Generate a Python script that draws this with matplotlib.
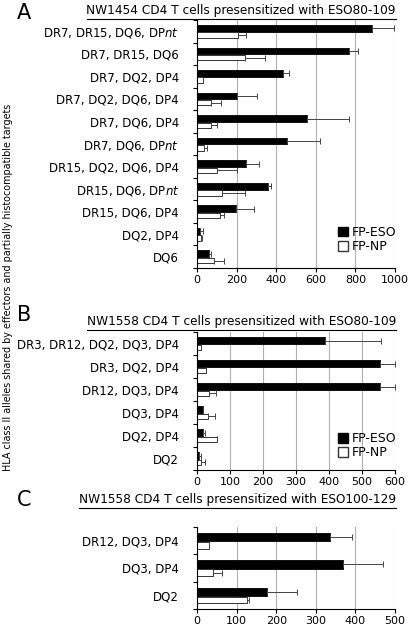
"""
Recreate the three-panel FP-ESO / FP-NP horizontal bar chart (panels A, B, C).
"""

import numpy as np
import matplotlib
matplotlib.use("Agg")
import matplotlib.pyplot as plt
from matplotlib.patches import Patch
from matplotlib.lines import Line2D

plt.rcParams["font.family"] = ["DejaVu Sans"]
plt.rcParams["mathtext.fontset"] = "dejavusans"

W, H = 408, 630

# ---- data -------------------------------------------------------------
labels_a = ["DR7, DR15, DQ6, DP$\\mathit{nt}$", "DR7, DR15, DQ6", "DR7, DQ2, DP4",
            "DR7, DQ2, DQ6, DP4", "DR7, DQ6, DP4", "DR7, DQ6, DP$\\mathit{nt}$",
            "DR15, DQ2, DQ6, DP4", "DR15, DQ6, DP$\\mathit{nt}$", "DR15, DQ6, DP4",
            "DQ2, DP4", "DQ6"]
eso_a = [882, 769, 433, 200, 557, 453, 247, 360, 195, 17, 61]
eso_err_a = [115, 42, 33, 101, 212, 168, 68, 12, 95, 13, 10]
np_a = [209, 242, 30, 69, 72, 35, 99, 125, 118, 20, 88]
np_err_a = [38, 101, 0, 52, 31, 14, 105, 117, 18, 4, 48]

labels_b = ["DR3, DR12, DQ2, DQ3, DP4", "DR3, DQ2, DP4", "DR12, DQ3, DP4",
            "DQ3, DP4", "DQ2, DP4", "DQ2"]
eso_b = [388, 555, 555, 17, 18, 7]
eso_err_b = [171, 45, 45, 0, 7, 6]
np_b = [12, 28, 35, 34, 62, 13]
np_err_b = [0, 0, 22, 20, 0, 12]

labels_c = ["DR12, DQ3, DP4", "DQ3, DP4", "DQ2"]
eso_c = [337, 368, 178]
eso_err_c = [54, 101, 75]
np_c = [31, 40, 126]
np_err_c = [0, 23, 6]

titles = ["NW1454 CD4 T cells presensitized with ESO80-109",
          "NW1558 CD4 T cells presensitized with ESO80-109",
          "NW1558 CD4 T cells presensitized with ESO100-129"]
xmax = [1000, 600, 500]
xstep = [200, 100, 100]
letters = ["A", "B", "C"]

# axes boxes in pixels: left, right, top, bottom
BOXES = [(197, 395, 20, 268), (197, 395, 332, 470), (197, 395, 527, 609)]
TITLE_Y = [14, 325, 503]
LETTER_Y = [13, 315, 500]
LEGEND = [True, True, False]


def px_axes(fig, box):
    l, r, t, b = box
    return fig.add_axes([l / W, 1 - b / H, (r - l) / W, (b - t) / H])


def draw_panel(ax, labels, eso, eso_err, npv, np_err, xm, step, legend):
    n = len(labels)
    y = np.arange(n) + 0.5
    ax.set_xlim(0, xm)
    ax.set_ylim(n, 0)
    ax.set_xticks(np.arange(0, xm + 1, step))
    ax.xaxis.grid(True, color="#b0b0b0", lw=0.8)
    ax.set_axisbelow(True)
    for s in ("top", "right"):
        ax.spines[s].set_visible(False)
    ax.spines["left"].set_linewidth(0.8)
    ax.spines["bottom"].set_linewidth(0.8)

    ekw = dict(ecolor="#444444", elinewidth=0.7, capsize=2.4, capthick=0.7)
    yb = y - 0.13
    yw = y + 0.17
    ax.barh(yb, eso, height=0.3, color="black", edgecolor="black", lw=0.6,
            xerr=[np.zeros(n), eso_err], error_kw=ekw)
    ax.barh(yw, npv, height=0.24, color="white", edgecolor="#333333", lw=0.7,
            xerr=[np.zeros(n), np_err], error_kw=ekw)

    ax.set_yticks(np.arange(n + 1))
    ax.set_yticklabels([])
    ax.tick_params(axis="y", which="major", length=3, width=0.8)
    ax.set_yticks(y, minor=True)
    ax.set_yticklabels(labels, minor=True, fontsize=8.5)
    ax.tick_params(axis="y", which="minor", length=0, pad=13)
    ax.tick_params(axis="x", length=3, width=0.8, labelsize=8, pad=2)

    if legend:
        handles = [Patch(facecolor="black", edgecolor="black", label="FP-ESO"),
                   Patch(facecolor="white", edgecolor="#333333", label="FP-NP")]
        ax.legend(handles=handles, loc="lower right", bbox_to_anchor=(1.03, 0.04),
                  frameon=False, fontsize=9, handlelength=0.8, handleheight=0.8,
                  handletextpad=0.3, labelspacing=0.1, borderaxespad=0)


fig = plt.figure(figsize=(W / 100, H / 100), dpi=100)
data = [(labels_a, eso_a, eso_err_a, np_a, np_err_a),
        (labels_b, eso_b, eso_err_b, np_b, np_err_b),
        (labels_c, eso_c, eso_err_c, np_c, np_err_c)]

title_texts = []
for i, box in enumerate(BOXES):
    ax = px_axes(fig, box)
    draw_panel(ax, *data[i], xmax[i], xstep[i], LEGEND[i])
    t = fig.text(396 / W, 1 - TITLE_Y[i] / H, titles[i], ha="right", va="baseline",
                 fontsize=8.7)
    title_texts.append(t)
    fig.text(24 / W, 1 - LETTER_Y[i] / H, letters[i], ha="center", va="center",
             fontsize=15)

fig.text(8 / W, 1 - 287 / H,
         "HLA class II alleles shared by effectors and partially histocompatible targets",
         rotation=90, ha="center", va="center", fontsize=6.9)

# underline the panel titles
fig.canvas.draw()
renderer = fig.canvas.get_renderer()
for t in title_texts:
    bb = t.get_window_extent(renderer)
    yline = bb.y0 - 1.5
    fig.add_artist(Line2D([bb.x0 / W, bb.x1 / W], [yline / H, yline / H],
                          transform=fig.transFigure, color="black", lw=0.8))

fig.savefig("out.png", dpi=100)
